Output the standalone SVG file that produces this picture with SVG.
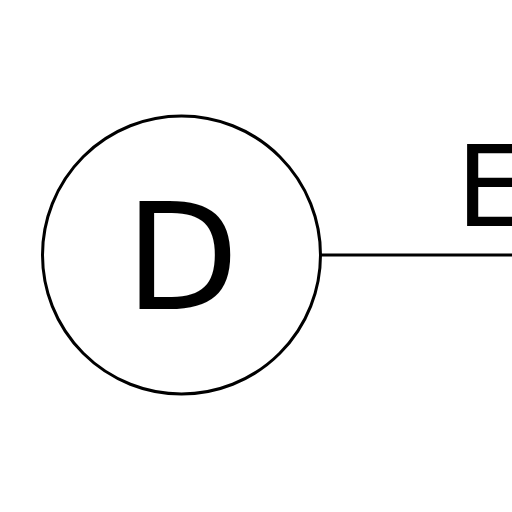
<svg xmlns="http://www.w3.org/2000/svg" width="512" height="512" viewBox="0 0 512 512">
<style>
.n{fill:#fff;stroke:#000;stroke-width:3}
.t{font-family:"DejaVu Sans",sans-serif;fill:#000}
.c{stroke:#000;stroke-width:3;fill:none}
</style>
<rect width="512" height="512" fill="#fff"/>
<g id="connectors"><line class="c" x1="321" y1="255" x2="512" y2="255"/></g>
<g id="node-D"><circle class="n" cx="181.5" cy="255" r="139"/><text class="t" x="182" y="309" font-size="148" text-anchor="middle">D</text></g>
<g id="label-E"><text class="t" x="456" y="226" font-size="113">E</text></g>
</svg>
